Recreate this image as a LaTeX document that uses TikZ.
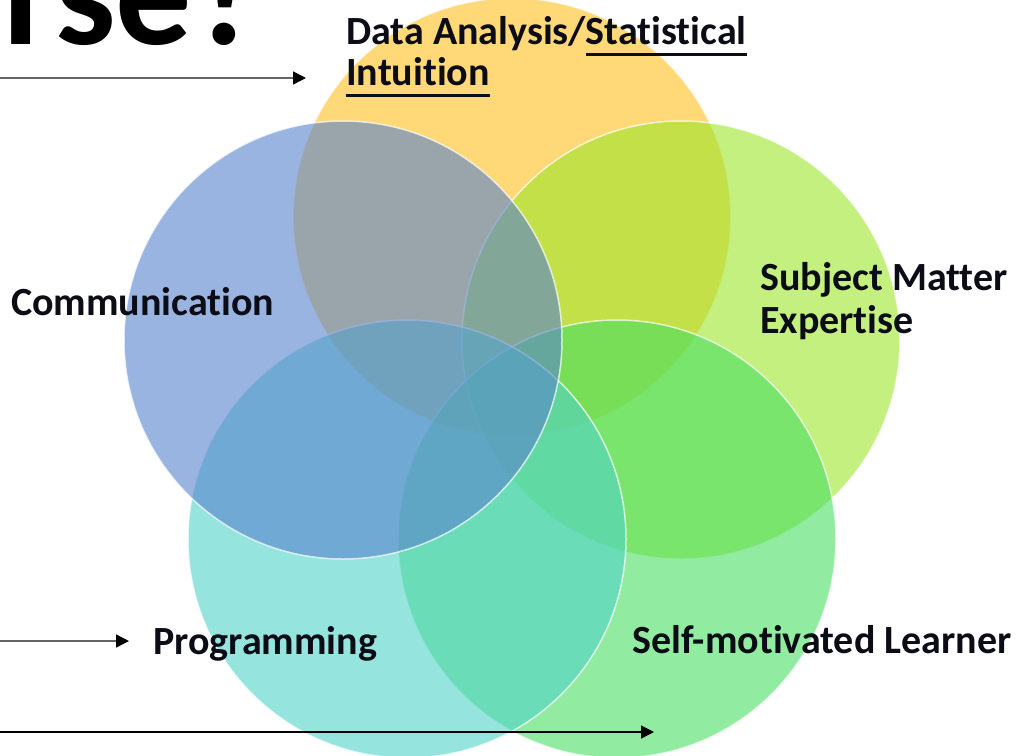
\documentclass[tikz,border=0pt]{standalone}
\usepackage{fontspec}
\setmainfont{Carlito}[RawFeature={-liga;-clig;-dlig}]
\usetikzlibrary{arrows.meta}
\definecolor{cOrange}{RGB}{255,192,30}
\definecolor{cLime}{RGB}{155,230,43}
\definecolor{cGreen}{RGB}{72,222,97}
\definecolor{cTeal}{RGB}{80,210,200}
\definecolor{cBlue}{RGB}{88,130,205}
\definecolor{cArrowGray}{RGB}{100,100,100}
\definecolor{cText}{RGB}{12,12,22}
\newcommand\myul[1]{\setbox0\hbox{#1}\rlap{\rule[-12pt]{\wd0}{3pt}}\box0}
\begin{document}
\begin{tikzpicture}[x=1pt,y=-1pt,
  venn/.style={circle,minimum size=438pt,inner sep=0pt,fill opacity=0.6,draw=white,draw opacity=0.7,line width=1.5pt},
  lbl/.style={anchor=base west,inner sep=0pt,font=\fontsize{40}{44}\selectfont\bfseries,text=cText},
  grayarrow/.style={draw=cArrowGray,line width=1.4pt,-{Triangle[length=13pt,width=13pt,fill=black,color=black]}},
  blackarrow/.style={draw=black,line width=1.3pt,-{Triangle[length=13pt,width=13pt]}}]
\useasboundingbox (0,0) rectangle (1027,755);
\fill[white] (0,0) rectangle (1027,755);
\clip (0,0) rectangle (1027,755);
% circles
\node[venn,fill=cOrange] (cO) at (512,217) {};
\node[venn,fill=cLime] (cL) at (681,340) {};
\node[venn,fill=cGreen] (cS) at (617,539) {};
\node[venn,fill=cTeal] (cT) at (407,539) {};
\node[venn,fill=cBlue] (cB) at (343,340) {};
% title fragment
\node[anchor=base west,inner sep=0pt,font=\fontsize{152}{152}\selectfont\bfseries] (title) at (3,44) {rse?};
% labels
\node[lbl] (tData) at (346,44) {Data Analysis/\myul{Statistical}};
\node[lbl] (tIntu) at (346,85) {\myul{Intuition}};
\node[lbl] (tSubj) at (760,290) {Subject Matter};
\node[lbl] (tExp) at (760,333) {Expertise};
\node[lbl] (tComm) at (11,315) {Communication};
\node[lbl] (tProg) at (153,654) {Programming};
\node[lbl] (tSelf) at (632,653) {Self-motivated Learner};
% arrows
\coordinate (a1s) at (0,78);
\coordinate (a1e) at (306,78);
\coordinate (a2s) at (0,641);
\coordinate (a2e) at (129,641);
\coordinate (a3s) at (0,732);
\coordinate (a3e) at (654,732);
\draw[grayarrow] (a1s) -- (a1e);
\draw[grayarrow] (a2s) -- (a2e);
\draw[blackarrow] (a3s) -- (a3e);
\end{tikzpicture}
\end{document}
